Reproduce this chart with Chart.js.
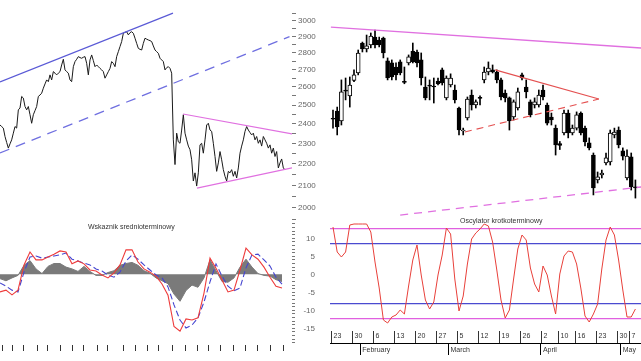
<!DOCTYPE html>
<html>
<head>
<meta charset="utf-8">
<script src="https://cdn.jsdelivr.net/npm/chart.js@4.4.1/dist/chart.umd.min.js"></script>
<style>
  body { margin: 0; background: #fff; width: 641px; height: 361px; overflow: hidden; position: relative; }
  canvas { position: absolute; }
  .ttl { position: absolute; font: 7px "Liberation Sans", Arial, sans-serif; color: #333; white-space: nowrap; }
</style>
</head>
<body>
<canvas id="price" width="330" height="222" style="left:0px;top:0px"></canvas>
<canvas id="macd" width="315" height="139" style="left:0px;top:222px"></canvas>
<canvas id="candles" width="311" height="222" style="left:330px;top:0px"></canvas>
<canvas id="osc" width="311" height="146" style="left:330px;top:215px"></canvas>
<div class="ttl" style="left:88px;top:223px">Wskaznik srednioterminowy</div>
<div class="ttl" style="left:460px;top:217px">Oscylator krotkoterminowy</div>
<script>
// ---- long term panel, one close per step ----
var longClose = [
  2394, 2386, 2378, 2335, 2305, 2277, 2298, 2318, 2352, 2386,
  2378, 2474, 2484, 2547, 2538, 2492, 2474, 2492, 2448, 2403,
  2448, 2470, 2492, 2547, 2555, 2565, 2593, 2617, 2640, 2630,
  2669, 2640, 2688, 2679, 2669, 2679, 2688, 2727, 2761, 2698,
  2688, 2679, 2640, 2630, 2717, 2747, 2761, 2777, 2771, 2767,
  2773, 2777, 2737, 2669, 2757, 2787, 2753, 2717, 2727, 2717,
  2707, 2698, 2688, 2650, 2669, 2688, 2707, 2747, 2737, 2717,
  2777, 2807, 2838, 2869, 2921, 2927, 2931, 2911, 2925, 2931,
  2921, 2890, 2858, 2827, 2821, 2817, 2858, 2890, 2884, 2879,
  2875, 2869, 2842, 2817, 2807, 2797, 2767, 2757, 2747, 2698,
  2711, 2717, 2707, 2679, 2318, 2197, 2352, 2308, 2301, 2368,
  2448, 2352, 2318, 2287, 2269, 2220, 2120, 2158, 2097, 2158,
  2293, 2301, 2252, 2318, 2394, 2403, 2368, 2361, 2301, 2236,
  2165, 2205, 2260, 2220, 2173, 2142, 2120, 2165, 2158, 2173,
  2142, 2165, 2134, 2181, 2252, 2287, 2318, 2361, 2386, 2368,
  2355, 2343, 2352, 2318, 2335, 2301, 2318, 2287, 2335, 2318,
  2301, 2277, 2293, 2252, 2277, 2236, 2260, 2181, 2205, 2224,
  2181, 2173
];
var channelTop = [{x: 0, y: 2628}, {x: 103.8, y: 3052}];
var channelBottom = [{x: 0, y: 2253}, {x: 173.7, y: 2900}];
var wedgeTop = [{x: 109.8, y: 2452}, {x: 175.2, y: 2348}];
var wedgeBottom = [{x: 118.2, y: 2088}, {x: 175.2, y: 2181}];
var priceLabels = [2000, 2100, 2200, 2300, 2400, 2500, 2600, 2700, 2800, 2900, 3000];

// ---- medium term indicator, one value every 3.6 steps ----
var macdLine = [-4.9, -4.4, -5.7, -4.4, 2.6, 6.2, 4.0, 4.0, 4.8, 5.6,
  6.5, 6.2, 2.9, 3.7, 2.9, 1.2, 0.9, -0.2, -1.0, 0.4,
  2.6, 6.8, 6.8, 3.4, 1.5, 0.6, -0.5, -2.7, -5.8, -14.5,
  -15.8, -12.4, -12.7, -12.1, -5.2, 4.5, 1.7, -1.6, -4.9, -4.4,
  1.2, 7.3, 5.4, 4.2, 2.0, -0.8, -3.3, -3.8];
var macdSignal = [-2.4, -3.3, -4.4, -4.9, 0.6, 4.8, 5.1, 4.5, 4.8, 5.1,
  5.4, 5.9, 4.2, 3.7, 3.1, 2.6, 1.5, 0.9, -0.2, -0.8,
  0.6, 3.7, 5.4, 4.2, 2.6, 1.2, -0.2, -1.0, -3.5, -8.5,
  -12.7, -14.9, -14.1, -12.1, -7.7, -2.1, 2.9, -0.5, -3.3, -4.6,
  -3.8, 1.8, 5.4, 5.6, 4.0, 2.3, -0.8, -2.7];
var macdHist = [-1.2, -1.8, -1.0, -0.3, 2.5, 3.8, 1.5, 0.2, 2.2, 3.0,
  3.0, 2.0, 1.5, 0.8, 2.2, 0.8, -0.3, -0.3, 0.5, 1.0,
  2.5, 3.0, 3.3, 2.5, 1.0, 0.3, -1.0, -1.8, -2.6, -5.5,
  -7.5, -4.5, -3.0, -3.6, -1.0, 4.0, 1.0, -2.0, -2.2, -1.0,
  2.0, 4.2, 2.0, 0.2, -0.3, -0.5, -1.5, -2.0];
var macdLabels = [10, 5, 0, -5, -10, -15];
var macdTickDays = [1.2, 7.2, 13.8, 22.2, 28.2, 36, 43.2, 49.8, 58.2, 64.2, 73.8, 81,
  88.2, 94.8, 103.2, 111, 118.2, 124.8, 132, 139.8, 147, 154.2, 162, 169.8];

// ---- daily candles, Jan 23 .. May 8 ----
var opens = [2428, 2467, 2415, 2578, 2550, 2637, 2680, 2860, 2823, 2848,
  2897, 2879, 2891, 2751, 2739, 2715, 2745, 2630, 2739, 2811,
  2805, 2757, 2600, 2608, 2603, 2634, 2698, 2539, 2611, 2583,
  2484, 2363, 2431, 2555, 2500, 2539, 2640, 2686, 2698, 2686,
  2640, 2566, 2539, 2436, 2484, 2669, 2600, 2517, 2500, 2500,
  2583, 2500, 2436, 2378, 2300, 2353, 2457, 2353, 2378, 2457,
  2378, 2303, 2243, 2125, 2148, 2205, 2210, 2343, 2368, 2263,
  2134, 2234, 2093];
var closes = [2424, 2384, 2572, 2577, 2611, 2669, 2799, 2823, 2842, 2903,
  2848, 2848, 2799, 2651, 2657, 2669, 2680, 2626, 2775, 2745,
  2739, 2651, 2539, 2605, 2600, 2617, 2623, 2651, 2651, 2528,
  2368, 2363, 2533, 2500, 2517, 2536, 2686, 2709, 2686, 2640,
  2545, 2539, 2415, 2517, 2572, 2651, 2572, 2447, 2517, 2555,
  2545, 2404, 2420, 2293, 2290, 2457, 2353, 2378, 2447, 2353,
  2308, 2278, 2088, 2139, 2157, 2229, 2353, 2358, 2293, 2238,
  2238, 2093, 2088];
var highs = [2473, 2489, 2640, 2651, 2657, 2698, 2817, 2866, 2910, 2923,
  2942, 2897, 2897, 2769, 2757, 2739, 2757, 2715, 2787, 2860,
  2817, 2799, 2657, 2640, 2651, 2651, 2709, 2663, 2675, 2611,
  2489, 2378, 2544, 2583, 2528, 2550, 2715, 2745, 2727, 2698,
  2651, 2583, 2544, 2528, 2594, 2680, 2640, 2528, 2539, 2583,
  2611, 2511, 2457, 2394, 2310, 2473, 2473, 2394, 2463, 2463,
  2389, 2328, 2253, 2162, 2171, 2253, 2368, 2378, 2384, 2278,
  2268, 2253, 2125];
var lows = [2378, 2343, 2394, 2528, 2489, 2630, 2669, 2805, 2805, 2830,
  2830, 2836, 2769, 2640, 2640, 2640, 2669, 2618, 2727, 2739,
  2715, 2611, 2528, 2528, 2511, 2611, 2611, 2528, 2600, 2511,
  2343, 2343, 2420, 2473, 2484, 2500, 2623, 2669, 2680, 2623,
  2528, 2517, 2368, 2420, 2473, 2640, 2539, 2436, 2484, 2489,
  2528, 2394, 2394, 2243, 2270, 2343, 2328, 2343, 2368, 2343,
  2288, 2268, 2057, 2111, 2134, 2195, 2195, 2328, 2278, 2219,
  2125, 2079, 2043];
var resistance = [{x: -0.5, y: 2961}, {x: 73.4, y: 2829}];
var support = [{x: 16, y: 1969}, {x: 73.4, y: 2093}];
var flagTop = [{x: 38.6, y: 2698}, {x: 63.3, y: 2533}];
var flagBottom = [{x: 31.4, y: 2358}, {x: 63.3, y: 2533}];

// ---- short term oscillator, one value per session ----
var osc = [97, 72, 67, 72, 99, 100, 100, 100, 100, 92,
  62, 36, 4, 1, 7, 9, 14, 10, 38, 64,
  79, 49, 24, 15, 22, 49, 69, 96, 90, 45,
  13, 28, 60, 85, 91, 95, 100, 98, 82, 54,
  24, 6, 14, 45, 75, 89, 84, 56, 40, 32,
  58, 49, 28, 10, 50, 68, 73, 72, 60, 36,
  8, 2, 10, 20, 55, 84, 97, 89, 64, 34,
  7, 7, 15];
var oscLevels = [95, 80, 20, 5];
var weekStarts = [0, 5, 10, 15, 20, 25, 30, 35, 40, 45, 50, 54, 58, 63, 68, 71];
var weekLabels = ['23', '30', '6', '13', '20', '27', '5', '12', '19', '26', '2', '10', '16', '23', '30', '7'];
var monthStarts = [7, 28, 50, 69];
var monthNames = ['February', 'March', 'April', 'May'];

Chart.defaults.font.family = '"Liberation Sans", Arial, sans-serif';
Chart.defaults.font.size = 8;
Chart.defaults.color = '#555';
Chart.defaults.animation = false;
Chart.defaults.plugins.legend.display = false;
Chart.defaults.plugins.tooltip.enabled = false;

function seg(pts, color, dash, width) {
  return { type: 'line', data: pts, borderColor: color, borderWidth: width || 1,
           borderDash: dash || [], pointRadius: 0, fill: false, order: -1 };
}
function idx(arr, step) { return arr.map(function (v, i) { return i * (step || 1); }); }

var PMIN = 1939.7, PMAX = 3139.8;
var LONG_MAX = 175.2;

// minor ticks half way between the labelled hundreds
var priceTicks = [];
priceLabels.forEach(function (v) { priceTicks.push(v - 50); priceTicks.push(v); });
priceTicks.push(3050);

new Chart(document.getElementById('price'), {
  type: 'line',
  data: {
    labels: idx(longClose),
    datasets: [
      { data: longClose, borderColor: '#1a1a1a', borderWidth: 1, pointRadius: 0 },
      seg(channelTop, '#5a5ad6', [], 1.2),
      seg(channelBottom, '#6f6fe0', [10, 7], 1.3),
      seg(wedgeTop, '#e070e0', [], 1.2),
      seg(wedgeBottom, '#e070e0', [], 1.2)
    ]
  },
  options: {
    responsive: false, devicePixelRatio: 1, layout: { padding: 0 },
    scales: {
      x: { type: 'linear', display: false, min: 0, max: LONG_MAX },
      y: {
        type: 'logarithmic', position: 'right', min: PMIN, max: PMAX,
        afterBuildTicks: function (s) { s.ticks = priceTicks.map(function (v) { return { value: v }; }); },
        afterFit: function (s) { s.width = 38; s.paddingTop = 0; s.paddingBottom = 0; },
        border: { display: false },
        grid: { drawOnChartArea: false, tickLength: 4, color: '#777' },
        ticks: { padding: 2, color: '#666', autoSkip: false,
                 callback: function (v) { return priceLabels.indexOf(v) >= 0 ? String(v) : ''; } }
      }
    }
  }
});

var macdTicks = [];
for (var t = -19; t <= 14; t++) macdTicks.push(t);

new Chart(document.getElementById('macd'), {
  type: 'line',
  data: {
    labels: idx(macdLine, 3.6),
    datasets: [
      { data: macdLine, borderColor: '#ee3b3b', borderWidth: 1.1, pointRadius: 0, order: 0 },
      { data: macdSignal, borderColor: '#4545d0', borderWidth: 1.1, borderDash: [6, 3], pointRadius: 0, order: 1 },
      { data: macdHist, borderColor: '#7a7a7a', backgroundColor: '#7a7a7a', borderWidth: 1,
        pointRadius: 0, fill: 'origin', order: 2 }
    ]
  },
  options: {
    responsive: false, devicePixelRatio: 1, layout: { padding: 0 },
    scales: {
      x: {
        type: 'linear', min: 0, max: LONG_MAX,
        afterBuildTicks: function (s) { s.ticks = macdTickDays.map(function (v) { return { value: v }; }); },
        afterFit: function (s) { s.height = 16; },
        border: { display: false },
        grid: { drawOnChartArea: false, tickLength: 6, color: '#333' },
        ticks: { display: false }
      },
      y: {
        position: 'right', min: -19.64, max: 14.53,
        afterBuildTicks: function (s) { s.ticks = macdTicks.map(function (v) { return { value: v }; }); },
        afterFit: function (s) { s.width = 23; s.paddingTop = 0; s.paddingBottom = 0; },
        border: { display: false },
        grid: { drawOnChartArea: false, tickLength: 3, color: '#777' },
        ticks: { crossAlign: 'far', color: '#666', autoSkip: false,
                 callback: function (v) { return macdLabels.indexOf(v) >= 0 ? String(v) : ''; } }
      }
    }
  }
});

var bodies = opens.map(function (o, i) { return [Math.min(o, closes[i]), Math.max(o, closes[i])]; });
var bodyColors = opens.map(function (o, i) { return closes[i] >= o ? '#ffffff' : '#000000'; });
var wicks = lows.map(function (l, i) { return [l, highs[i]]; });

new Chart(document.getElementById('candles'), {
  type: 'bar',
  data: {
    labels: idx(opens),
    datasets: [
      seg(resistance, '#e070e0', [], 1.3),
      seg(support, '#e070e0', [8, 6], 1.3),
      seg(flagTop, '#e45050', [], 1.1),
      seg(flagBottom, '#e45050', [7, 5], 1.1),
      { data: bodies, backgroundColor: bodyColors, borderColor: '#000', borderWidth: 1,
        borderSkipped: false, barThickness: 4, minBarLength: 1, grouped: false, order: 0 },
      { data: wicks, backgroundColor: '#000', barThickness: 1, grouped: false, order: 1 }
    ]
  },
  options: {
    responsive: false, devicePixelRatio: 1, layout: { padding: 0 },
    scales: {
      x: { type: 'linear', display: false, offset: false, min: -0.714, max: 73.33 },
      y: { type: 'logarithmic', display: false, min: PMIN, max: PMAX }
    }
  }
});

var levelColor = { 95: '#e060e0', 5: '#e060e0', 80: '#4a4ad0', 20: '#4a4ad0' };

new Chart(document.getElementById('osc'), {
  type: 'line',
  data: {
    labels: idx(osc),
    datasets: [
      { data: osc, borderColor: '#e8403a', borderWidth: 1, pointRadius: 0 }
    ]
  },
  options: {
    responsive: false, devicePixelRatio: 1, layout: { padding: 0 },
    scales: {
      x: {
        type: 'linear', min: -0.714, max: 73.33,
        afterBuildTicks: function (s) { s.ticks = monthStarts.map(function (v) { return { value: v - 0.5 }; }); },
        afterFit: function (s) { s.height = 18; },
        border: { display: true, color: '#000', width: 1 },
        grid: { drawOnChartArea: false, tickLength: 12, color: '#000' },
        ticks: { align: 'start', padding: -9, labelOffset: 2, autoSkip: false, maxRotation: 0,
                 color: '#333', font: { size: 7 },
                 callback: function (v, i) { return monthNames[i]; } }
      },
      y: {
        min: -19, max: 109,
        afterBuildTicks: function (s) { s.ticks = oscLevels.map(function (v) { return { value: v }; }); },
        afterFit: function (s) { s.width = 0; },
        border: { display: false },
        grid: { drawTicks: false, lineWidth: 1.3,
                color: function (c) { return levelColor[c.tick.value] || '#999'; } },
        ticks: { display: false }
      }
    }
  },
  plugins: [{
    id: 'weekTicks',
    afterDraw: function (chart) {
      var s = chart.scales.x, ctx = chart.ctx, b = chart.chartArea.bottom;
      ctx.save();
      ctx.strokeStyle = '#333';
      ctx.fillStyle = '#333';
      ctx.lineWidth = 1;
      ctx.font = '7px "Liberation Sans", Arial, sans-serif';
      ctx.textBaseline = 'middle';
      weekStarts.forEach(function (d, i) {
        var x = Math.round(s.getPixelForValue(d - 0.5)) + 0.5;
        ctx.beginPath();
        ctx.moveTo(x, b - 12);
        ctx.lineTo(x, b);
        ctx.stroke();
        ctx.fillText(weekLabels[i], x + 2, b - 7);
      });
      ctx.restore();
    }
  }]
});
</script>
</body>
</html>
